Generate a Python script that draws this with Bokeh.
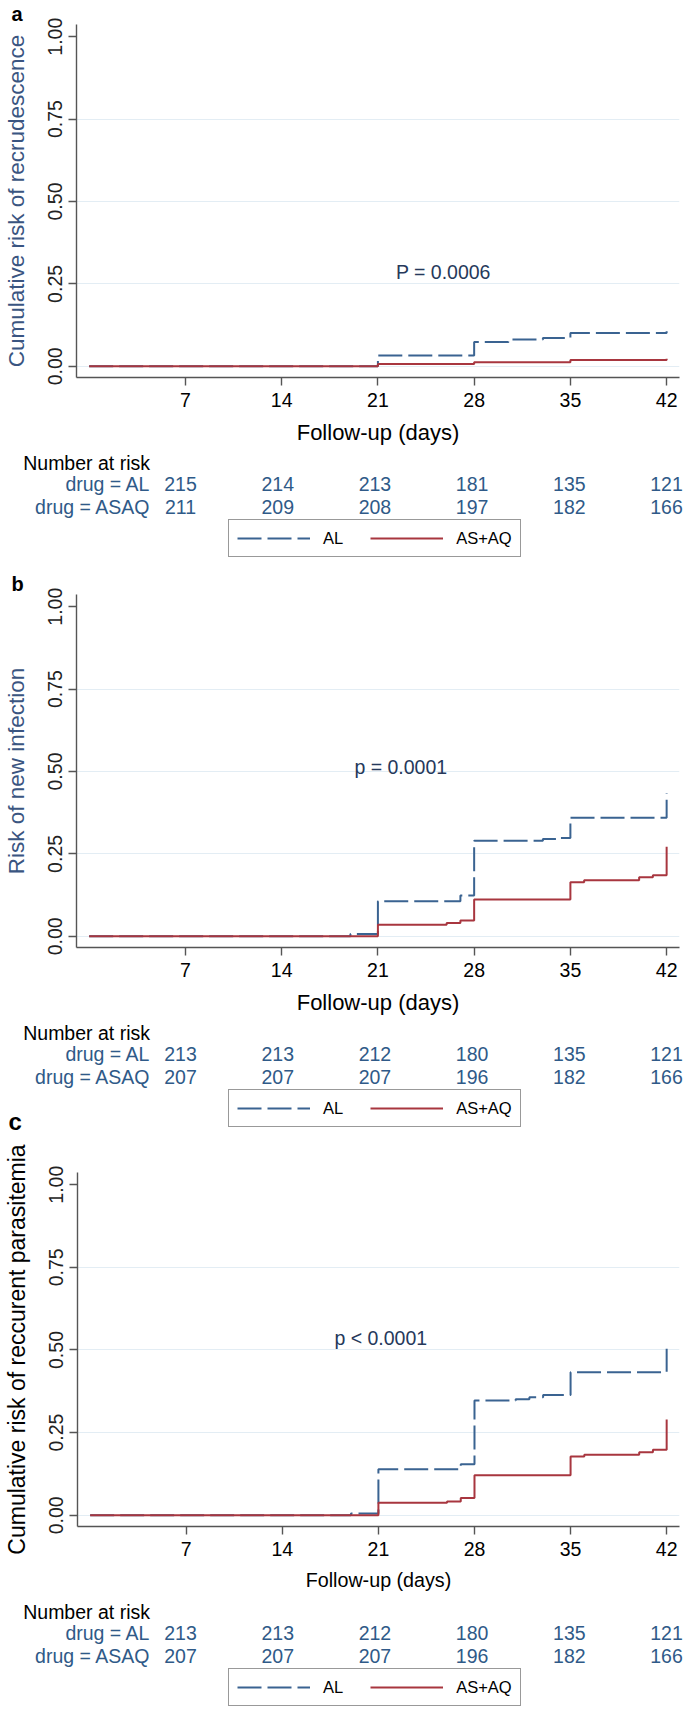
from bokeh.plotting import figure
from bokeh.models import (Range1d, FixedTicker, Legend, LegendItem,
                          PrintfTickFormatter)
from bokeh.layouts import column, row
from bokeh.embed import file_html
from bokeh.resources import INLINE
from bokeh.core.properties import value

# ---------------- data ----------------
day_ticks = [7, 14, 21, 28, 35, 42]
risk_ticks = [0, 0.25, 0.5, 0.75, 1.0]
grid_ticks = [0, 0.25, 0.5, 0.75]

# panel a : recrudescence
a_al_days = [0, 21, 28, 30.5, 33, 35, 42]
a_al_risk = [0, 0.033, 0.074, 0.081, 0.086, 0.101, 0.106]
a_asaq_days = [0, 21, 28, 35, 42]
a_asaq_risk = [0, 0.007, 0.012, 0.019, 0.023]
a_al_n = [215, 214, 213, 181, 135, 121]
a_asaq_n = [211, 209, 208, 197, 182, 166]

# panel b : new infection
b_al_days = [0, 19, 21, 27, 28, 33, 34, 35, 42]
b_al_risk = [0, 0.007, 0.106, 0.124, 0.290, 0.295, 0.298, 0.360, 0.434]
b_asaq_days = [0, 21, 26, 27, 28, 35, 36, 40, 41, 42]
b_asaq_risk = [0, 0.035, 0.040, 0.048, 0.112, 0.164, 0.170, 0.179, 0.185, 0.272]
b_al_n = [213, 213, 212, 180, 135, 121]
b_asaq_n = [207, 207, 207, 196, 182, 166]

# panel c : recurrent parasitemia
c_al_days = [0, 19, 21, 27, 28, 31, 32, 33, 35, 42]
c_al_risk = [0, 0.005, 0.139, 0.154, 0.347, 0.351, 0.357, 0.364, 0.433, 0.504]
c_asaq_days = [0, 21, 26, 27, 28, 35, 36, 40, 41, 42]
c_asaq_risk = [0, 0.038, 0.042, 0.052, 0.121, 0.178, 0.183, 0.191, 0.198, 0.290]
c_al_n = [213, 213, 212, 180, 135, 121]
c_asaq_n = [207, 207, 207, 196, 182, 166]

group_labels = ["drug = AL", "drug = ASAQ"]
legend_labels = ["AL", "AS+AQ"]

# ---------------- style / layout ----------------
FONT = "Liberation Sans"
BLUE_LINE = "#3a6391"
RED_LINE = "#a8363f"
RISK_TXT = "#2f5a88"
P_TXT = "#26395b"
TITLE_BLUE = "#3a5581"
AXIS_COL = "#555555"
GRID_COL = "#e3edf4"
AL_DASH = "24 6"

PAGE_W = 685
PX_PER_DAY = 13.886
DAY0_PX = 82.8
FRAME_L, FRAME_R = 70, 679
FRAME_H = 354
XR = ((FRAME_L - DAY0_PX) / PX_PER_DAY, (FRAME_R - DAY0_PX) / PX_PER_DAY)
YR = (-0.034, 1.037)
BOTTOM_BORDER = 72


def make_plot(top_border, al_d, al_r, as_d, as_r, ytitle, ytitle_color,
              ytitle_size, xtitle_size, ptext, px, py, letter):
    h = top_border + FRAME_H + BOTTOM_BORDER
    p = figure(width=PAGE_W, height=h, x_range=Range1d(*XR), y_range=Range1d(*YR),
               output_backend="svg", toolbar_location=None,
               min_border_left=FRAME_L, min_border_right=PAGE_W - FRAME_R,
               min_border_top=top_border, min_border_bottom=BOTTOM_BORDER)
    p.outline_line_color = None
    p.xgrid.visible = False
    p.ygrid.ticker = FixedTicker(ticks=grid_ticks)
    p.ygrid.grid_line_color = GRID_COL
    p.ygrid.grid_line_width = 1

    if letter:
        p.title.text = letter
        p.title.text_font = FONT
        p.title.text_font_size = "20px"
        p.title.text_font_style = "bold"
        p.title.text_color = "black"
        p.title.align = "left"
        p.title.offset = -65
        p.title.standoff = 0

    xa = p.xaxis[0]
    xa.ticker = FixedTicker(ticks=day_ticks)
    xa.axis_line_color = AXIS_COL
    xa.axis_line_width = 1.4
    xa.major_tick_line_color = AXIS_COL
    xa.major_tick_line_width = 1.4
    xa.major_tick_out = 8
    xa.major_tick_in = 0
    xa.minor_tick_out = 0
    xa.minor_tick_in = 0
    xa.major_label_text_font = FONT
    xa.major_label_text_font_size = "19.5px"
    xa.major_label_text_color = "black"
    xa.major_label_standoff = 7
    xa.axis_label = "Follow-up (days)"
    xa.axis_label_text_font = FONT
    xa.axis_label_text_font_size = xtitle_size
    xa.axis_label_text_font_style = "normal"
    xa.axis_label_text_color = "black"
    xa.axis_label_standoff = 10

    ya = p.yaxis[0]
    ya.ticker = FixedTicker(ticks=risk_ticks)
    ya.formatter = PrintfTickFormatter(format="%.2f")
    ya.axis_line_color = AXIS_COL
    ya.axis_line_width = 1.4
    ya.major_tick_line_color = AXIS_COL
    ya.major_tick_line_width = 1.4
    ya.major_tick_out = 8
    ya.major_tick_in = 0
    ya.minor_tick_out = 0
    ya.minor_tick_in = 0
    ya.major_label_orientation = "vertical"
    ya.major_label_text_font = FONT
    ya.major_label_text_font_size = "19.5px"
    ya.major_label_text_color = "#222222"
    ya.major_label_standoff = 6
    ya.axis_label = ytitle
    ya.axis_label_text_font = FONT
    ya.axis_label_text_font_size = ytitle_size
    ya.axis_label_text_font_style = "normal"
    ya.axis_label_text_color = ytitle_color
    ya.axis_label_standoff = 17

    p.step(al_d, al_r, mode="after", line_color=BLUE_LINE, line_width=2,
           line_dash=AL_DASH)
    p.step(as_d, as_r, mode="after", line_color=RED_LINE, line_width=2)
    p.text([px], [py], text=[ptext], text_font=value(FONT), text_font_size="19.5px",
           text_color=P_TXT, text_align="center", text_baseline="middle")
    return p, h


def make_table(top, bottom, frame_bottom, al_d, al_r, as_d, as_r, al_n, as_n,
               next_letter=None):
    xr = (-DAY0_PX / PX_PER_DAY, (PAGE_W - DAY0_PX) / PX_PER_DAY)
    t = figure(width=PAGE_W, height=bottom - top, x_range=Range1d(*xr),
               y_range=Range1d(bottom, top), x_axis_type=None, y_axis_type=None,
               min_border=0, output_backend="svg", toolbar_location=None)
    t.outline_line_color = None
    t.xgrid.visible = False
    t.ygrid.visible = False

    def xd(px):
        return (px - DAY0_PX) / PX_PER_DAY

    def txt(x, y, s, size, color="black", align="left", bold=False):
        t.text([x], [y], text=[s], text_font=value(FONT), text_font_size=size,
               text_color=color, text_align=align, text_baseline="alphabetic",
               text_font_style="bold" if bold else "normal")

    txt(xd(22.7), frame_bottom + 85, "Number at risk", "19.5px")
    txt(xd(150), frame_bottom + 106.5, group_labels[0], "19.5px", RISK_TXT, "right")
    txt(xd(150), frame_bottom + 129.5, group_labels[1], "19.5px", RISK_TXT, "right")
    for n_list, dy in ((al_n, 106.5), (as_n, 129.5)):
        t.text(day_ticks, [frame_bottom + dy] * len(day_ticks),
               text=[str(n) for n in n_list], text_font=value(FONT),
               text_font_size="19.5px", text_color=RISK_TXT,
               text_align="center", text_baseline="alphabetic")

    # the curves again (they fall outside this strip's range) to key the legend
    k1 = t.step(al_d, al_r, mode="after", line_color=BLUE_LINE, line_width=2,
                line_dash=AL_DASH)
    k2 = t.step(as_d, as_r, mode="after", line_color=RED_LINE, line_width=2)
    leg_bottom = min(frame_bottom + 180, bottom - 2)
    leg = Legend(items=[LegendItem(label=legend_labels[0], renderers=[k1]),
                        LegendItem(label=legend_labels[1], renderers=[k2])],
                 location=(228, bottom - leg_bottom), orientation="horizontal",
                 border_line_color="#333333", border_line_width=1.5,
                 background_fill_color="white", background_fill_alpha=1,
                 padding=8, spacing=27, glyph_width=73, glyph_height=20,
                 label_height=20, label_standoff=13, margin=0,
                 label_text_font=FONT, label_text_font_size="16.5px",
                 label_text_color="black")
    t.add_layout(leg)
    if next_letter is not None:
        txt(xd(next_letter[1]), next_letter[2], next_letter[0], "24px", bold=True)
    return t


pa, ha = make_plot(23, a_al_days, a_al_risk, a_asaq_days, a_asaq_risk,
                   "Cumulative risk of recrudescence", TITLE_BLUE, "22.5px", "22px",
                   "P = 0.0006", 25.76, 0.287, "a")
fb_a = 23 + FRAME_H
row_b_top = 570
ta = make_table(ha, row_b_top, fb_a, a_al_days, a_al_risk, a_asaq_days, a_asaq_risk,
                a_al_n, a_asaq_n)

pb, hb = make_plot(23, b_al_days, b_al_risk, b_asaq_days, b_asaq_risk,
                   "Risk of new infection", TITLE_BLUE, "22.5px", "22px",
                   "p = 0.0001", 22.66, 0.515, "b")
fb_b = row_b_top + 23 + FRAME_H
row_c_top = 1138
tb = make_table(row_b_top + hb, row_c_top, fb_b, b_al_days, b_al_risk, b_asaq_days,
                b_asaq_risk, b_al_n, b_asaq_n, next_letter=("c", 8, 1121))

pc, hc = make_plot(34, c_al_days, c_al_risk, c_asaq_days, c_asaq_risk,
                   "Cumulative risk of reccurent parasitemia", "black", "23px",
                   "19.7px", "p < 0.0001", 21.17, 0.536, "")
fb_c = row_c_top + 34 + FRAME_H
tc = make_table(row_c_top + hc, 1710, fb_c, c_al_days, c_al_risk, c_asaq_days,
                c_asaq_risk, c_al_n, c_asaq_n)

# each plot wrapped in its own row so the column does not align the tables' frames to it
layout = column(row(pa), ta, row(pb), tb, row(pc), tc, spacing=0)
open("out.html", "w").write(file_html(layout, INLINE))
